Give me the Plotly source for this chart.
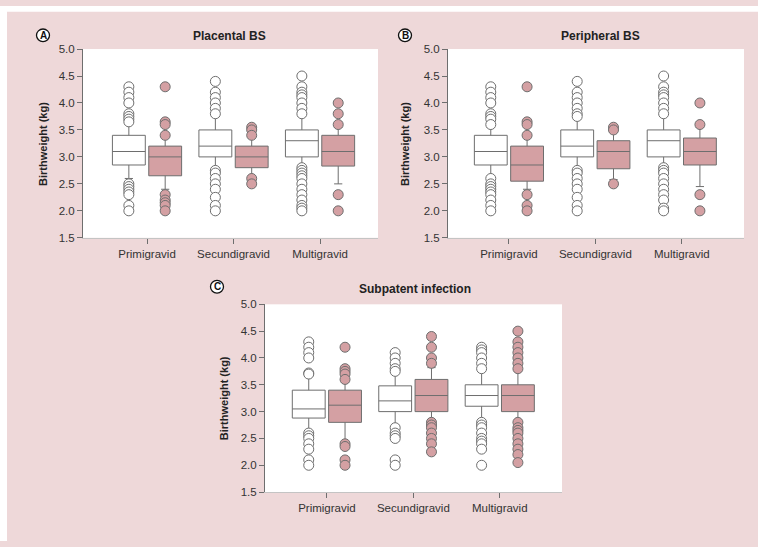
import plotly.graph_objects as go

W, H = 758, 547

categories = ["Primigravid", "Secundigravid", "Multigravid"]
panel_titles = ["Placental BS", "Peripheral BS", "Subpatent infection"]
panel_letters = ["A", "B", "C"]
y_ticks = [1.5, 2.0, 2.5, 3.0, 3.5, 4.0, 4.5, 5.0]

# ---- Panel A: Placental BS ----
a_white_q1 = [2.85, 3.0, 3.0]
a_white_med = [3.1, 3.2, 3.3]
a_white_q3 = [3.4, 3.5, 3.5]
a_white_lo = [2.6, 2.8, 2.85]
a_white_hi = [3.6, 3.75, 3.75]
a_white_out = [
    [4.3, 4.2, 4.1, 4.0, 3.8, 3.75, 3.7, 3.65, 2.5, 2.45, 2.4, 2.35, 2.3, 2.1, 2.0],
    [4.4, 4.2, 4.1, 4.0, 3.9, 3.8, 2.75, 2.7, 2.6, 2.5, 2.4, 2.25, 2.1, 2.0],
    [4.5, 4.3, 4.2, 4.15, 4.1, 4.0, 3.9, 3.8, 2.8, 2.75, 2.7, 2.65, 2.6, 2.5, 2.4, 2.3, 2.2, 2.1, 2.05, 2.0],
]
a_pink_q1 = [2.65, 2.8, 2.83]
a_pink_med = [3.0, 3.0, 3.1]
a_pink_q3 = [3.2, 3.2, 3.4]
a_pink_lo = [2.4, 2.6, 2.5]
a_pink_hi = [3.4, 3.45, 3.55]
a_pink_out = [
    [4.3, 3.65, 3.6, 3.4, 2.3, 2.2, 2.15, 2.1, 2.0],
    [3.55, 3.5, 3.4, 2.6, 2.5],
    [4.0, 3.8, 3.6, 2.3, 2.0],
]

# ---- Panel B: Peripheral BS ----
b_white_q1 = [2.85, 3.0, 3.0]
b_white_med = [3.1, 3.2, 3.3]
b_white_q3 = [3.4, 3.5, 3.5]
b_white_lo = [2.6, 2.8, 2.85]
b_white_hi = [3.55, 3.75, 3.8]
b_white_out = [
    [4.3, 4.2, 4.1, 4.0, 3.8, 3.75, 3.7, 3.6, 2.6, 2.5, 2.45, 2.4, 2.35, 2.3, 2.2, 2.1, 2.0],
    [4.4, 4.2, 4.1, 4.0, 3.9, 3.8, 3.75, 2.75, 2.7, 2.6, 2.5, 2.4, 2.25, 2.1, 2.0],
    [4.5, 4.3, 4.2, 4.15, 4.1, 4.0, 3.9, 3.8, 2.8, 2.75, 2.7, 2.6, 2.5, 2.4, 2.3, 2.2, 2.05, 2.0],
]
b_pink_q1 = [2.55, 2.78, 2.85]
b_pink_med = [2.85, 3.1, 3.1]
b_pink_q3 = [3.2, 3.3, 3.35]
b_pink_lo = [2.4, 2.58, 2.45]
b_pink_hi = [3.4, 3.55, 3.55]
b_pink_out = [
    [4.3, 3.65, 3.6, 3.4, 2.3, 2.1, 2.0],
    [3.55, 3.5, 2.5],
    [4.0, 3.6, 2.3, 2.0],
]

# ---- Panel C: Subpatent infection ----
c_white_q1 = [2.88, 3.0, 3.1]
c_white_med = [3.05, 3.2, 3.3]
c_white_q3 = [3.4, 3.48, 3.5]
c_white_lo = [2.62, 2.75, 2.85]
c_white_hi = [3.67, 3.75, 3.78]
c_white_out = [
    [4.3, 4.2, 4.1, 4.0, 3.72, 3.7, 2.6, 2.55, 2.5, 2.4, 2.3, 2.1, 2.0],
    [4.1, 4.0, 3.9, 3.8, 3.75, 2.7, 2.6, 2.55, 2.5, 2.1, 2.0],
    [4.2, 4.15, 4.1, 4.0, 3.9, 3.8, 2.8, 2.75, 2.7, 2.6, 2.5, 2.45, 2.4, 2.3, 2.0],
]
c_pink_q1 = [2.8, 3.0, 3.0]
c_pink_med = [3.12, 3.3, 3.3]
c_pink_q3 = [3.4, 3.6, 3.5]
c_pink_lo = [2.4, 2.8, 2.82]
c_pink_hi = [3.55, 3.82, 3.78]
c_pink_out = [
    [4.2, 3.8, 3.75, 3.7, 3.6, 2.4, 2.35, 2.1, 2.0],
    [4.4, 4.2, 4.0, 3.9, 2.8, 2.75, 2.7, 2.6, 2.5, 2.4, 2.25],
    [4.5, 4.3, 4.2, 4.1, 4.0, 3.9, 3.8, 2.8, 2.7, 2.65, 2.6, 2.5, 2.4, 2.3, 2.2, 2.05],
]

panels = [
    (a_white_q1, a_white_med, a_white_q3, a_white_lo, a_white_hi, a_white_out,
     a_pink_q1, a_pink_med, a_pink_q3, a_pink_lo, a_pink_hi, a_pink_out),
    (b_white_q1, b_white_med, b_white_q3, b_white_lo, b_white_hi, b_white_out,
     b_pink_q1, b_pink_med, b_pink_q3, b_pink_lo, b_pink_hi, b_pink_out),
    (c_white_q1, c_white_med, c_white_q3, c_white_lo, c_white_hi, c_white_out,
     c_pink_q1, c_pink_med, c_pink_q3, c_pink_lo, c_pink_hi, c_pink_out),
]

# ---- styling / layout (pixels) ----
BG = "#eed8d9"
PINK = "#d4a0a3"
LINE = "#6e6e6e"
TXT = "#333333"
FONT = "Liberation Sans, Arial, sans-serif"
OFF = 0.21
BW = 0.38

# plot areas in px: (left, right, top, bottom)
areas = [(83, 378, 44, 237), (448, 744, 44, 237), (265, 562, 305, 497)]
xranges = [[-0.74, 2.67], [-0.705, 2.72], [-0.716, 2.72]]
title_pos = [(229, 31), (600, 31), (415, 289)]
letter_pos = [(43, 30), (405, 30), (217, 287)]
ytitle_pos = [(43, 141), (405, 141), (224, 401)]


def px(x):
    return x / W


def py(y):
    return 1 - y / H


fig = go.Figure()
layout = dict(
    width=W, height=H, autosize=False,
    margin=dict(l=0, r=0, t=0, b=0),
    paper_bgcolor=BG, plot_bgcolor="white",
    showlegend=False,
    font=dict(family=FONT, size=11.5, color=TXT),
)
annotations = []
shapes = [
    dict(type="rect", xref="paper", yref="paper", x0=0, x1=1, y0=py(6), y1=1,
         fillcolor="white", line=dict(width=0), layer="above"),
    dict(type="rect", xref="paper", yref="paper", x0=0, x1=px(7), y0=0, y1=1,
         fillcolor="white", line=dict(width=0), layer="above"),
]

for k, p in enumerate(panels):
    (wq1, wmed, wq3, wlo, whi, wout, pq1, pmed, pq3, plo, phi, pout) = p
    sfx = "" if k == 0 else str(k + 1)
    xa, ya = "x" + sfx, "y" + sfx
    xpos_w = [i - OFF for i in range(len(categories))]
    xpos_p = [i + OFF for i in range(len(categories))]

    fig.add_trace(go.Box(
        x=xpos_w, q1=wq1, median=wmed, q3=wq3, lowerfence=wlo, upperfence=whi,
        width=BW, fillcolor="white", line=dict(color=LINE, width=1),
        whiskerwidth=0.25, boxpoints=False, xaxis=xa, yaxis=ya, hoverinfo="skip"))
    fig.add_trace(go.Box(
        x=xpos_p, q1=pq1, median=pmed, q3=pq3, lowerfence=plo, upperfence=phi,
        width=BW, fillcolor=PINK, line=dict(color=LINE, width=1),
        whiskerwidth=0.25, boxpoints=False, xaxis=xa, yaxis=ya, hoverinfo="skip"))

    ox_w, oy_w, ox_p, oy_p = [], [], [], []
    for i in range(len(categories)):
        ox_w += [xpos_w[i]] * len(wout[i])
        oy_w += wout[i]
        ox_p += [xpos_p[i]] * len(pout[i])
        oy_p += pout[i]
    fig.add_trace(go.Scatter(
        x=ox_w, y=oy_w, mode="markers", xaxis=xa, yaxis=ya,
        marker=dict(size=10, color="white", line=dict(color=LINE, width=1))))
    fig.add_trace(go.Scatter(
        x=ox_p, y=oy_p, mode="markers", xaxis=xa, yaxis=ya,
        marker=dict(size=10, color=PINK, line=dict(color=LINE, width=1))))

    l, r, t, b = areas[k]
    layout["xaxis" + sfx] = dict(
        domain=[px(l), px(r)], range=xranges[k], anchor=ya,
        tickvals=list(range(len(categories))), ticktext=categories,
        showline=True, linecolor="#c4c4c4", linewidth=1,
        ticks="outside", ticklen=5, tickcolor=LINE,
        showgrid=False, zeroline=False, fixedrange=True,
        tickfont=dict(size=11.5, color=TXT))
    layout["yaxis" + sfx] = dict(
        domain=[py(b), py(t)], range=[1.5, 5.0], anchor=xa,
        tickvals=y_ticks, ticktext=["%.1f" % v for v in y_ticks],
        showline=True, linecolor=LINE, linewidth=1,
        ticks="outside", ticklen=5, tickcolor=LINE,
        showgrid=False, zeroline=False, fixedrange=True,
        tickfont=dict(size=11.5, color=TXT))

    tx, ty = title_pos[k]
    annotations.append(dict(
        x=px(tx), y=py(ty), xref="paper", yref="paper", showarrow=False,
        text="<b>%s</b>" % panel_titles[k], font=dict(size=12, color="#222"),
        xanchor="center", yanchor="middle"))
    yx, yy = ytitle_pos[k]
    annotations.append(dict(
        x=px(yx), y=py(yy), xref="paper", yref="paper", showarrow=False,
        text="<b>Birthweight (kg)</b>", textangle=-90,
        font=dict(size=11, color="#222"), xanchor="center", yanchor="middle"))
    cx, cy = letter_pos[k]
    rr = 6.5
    shapes.append(dict(
        type="circle", xref="paper", yref="paper",
        x0=px(cx - rr), x1=px(cx + rr), y0=py(cy + rr), y1=py(cy - rr),
        fillcolor="white", line=dict(color="#111", width=1.3), layer="above"))
    annotations.append(dict(
        x=px(cx), y=py(cy), xref="paper", yref="paper", showarrow=False,
        text="<b>%s</b>" % panel_letters[k], font=dict(size=10, color="#111"),
        xanchor="center", yanchor="middle"))

layout["annotations"] = annotations
layout["shapes"] = shapes
fig.update_layout(**layout)

fig.write_html(
    "out.html",
    config={"displayModeBar": False, "staticPlot": True},
    post_script=("document.body.style.margin='0px';"
                 "document.body.style.overflow='hidden';"
                 "document.body.style.background='%s';"
                 "document.documentElement.style.background='%s';") % (BG, BG),
)
